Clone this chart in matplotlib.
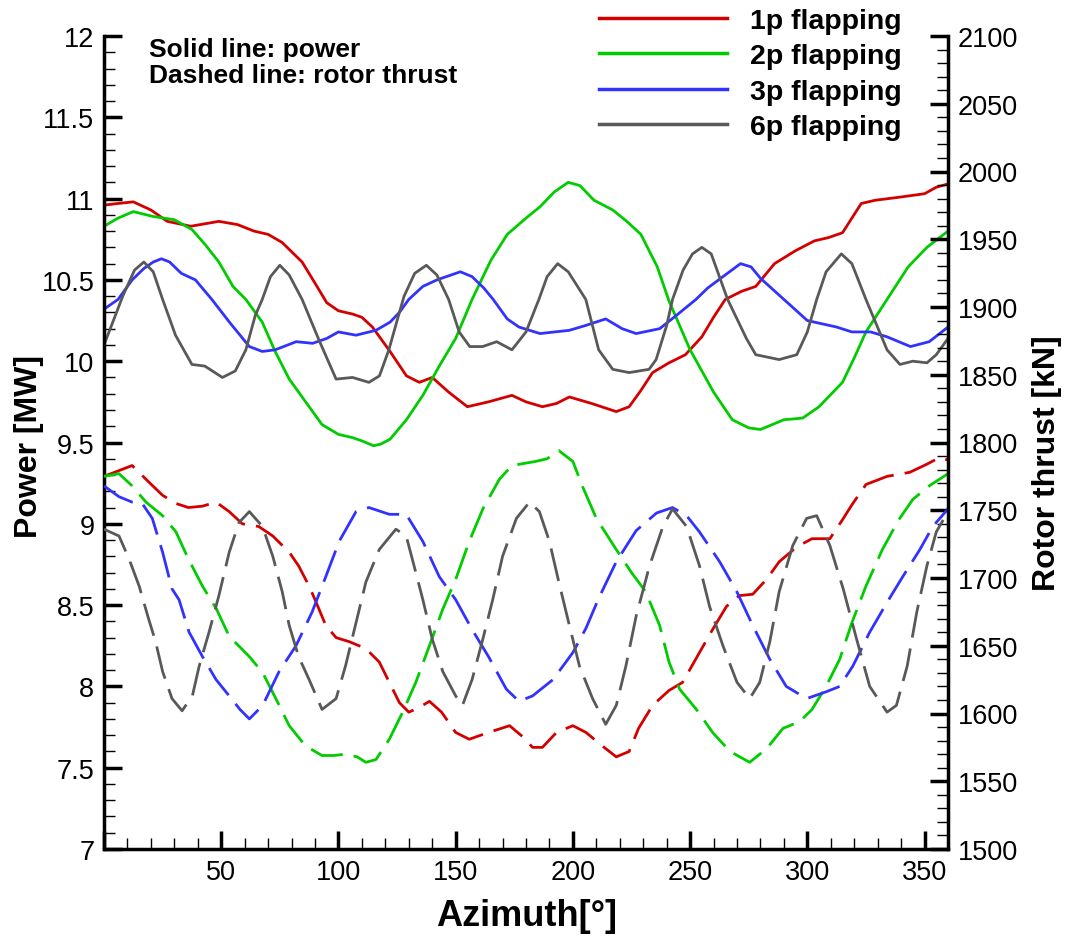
import matplotlib

matplotlib.use("Agg")
import matplotlib.pyplot as plt  # noqa: E402
from matplotlib.ticker import MultipleLocator, FuncFormatter  # noqa: E402

plt.rcParams["font.family"] = ["Liberation Sans", "DejaVu Sans"]
plt.rcParams["xtick.direction"] = "in"
plt.rcParams["ytick.direction"] = "in"

# ---- data (azimuth in degrees) ----
# solid lines: power [MW], left axis
az_p1 = [0, 6, 12.5, 20, 27, 37, 49, 57, 64, 70, 76, 84.5, 90, 95, 100, 106, 110,
         114.5, 122, 129, 134.5, 140, 147, 155, 164, 174, 180, 187, 193, 198.5,
         208, 218.5, 224, 229, 234, 241, 248, 255, 260, 265, 272, 278, 286, 295,
         303, 309, 315, 319, 323, 329, 340, 350, 355, 360]
power_p1 = [10.96, 10.97, 10.98, 10.93, 10.86, 10.83, 10.86, 10.84, 10.80, 10.78,
            10.73, 10.61, 10.48, 10.36, 10.31, 10.29, 10.27, 10.21, 10.06, 9.91,
            9.87, 9.90, 9.81, 9.72, 9.75, 9.79, 9.75, 9.72, 9.74, 9.78, 9.74, 9.69,
            9.72, 9.82, 9.93, 9.99, 10.04, 10.15, 10.27, 10.38, 10.43, 10.46, 10.60,
            10.68, 10.74, 10.76, 10.79, 10.88, 10.97, 10.99, 11.01, 11.03, 11.07,
            11.09]

az_p2 = [0, 6, 12.5, 21, 30, 37.5, 43, 49, 55, 60.5, 67.5, 73, 79, 86, 93, 100, 106,
         110, 115, 118, 122, 129, 136, 143, 150, 157, 165, 172, 180, 186, 192, 198,
         203, 209, 217, 223, 229, 236, 241, 250, 260, 268, 275, 280, 285, 290, 298,
         305, 315, 320, 325, 334, 343, 351, 360]
power_p2 = [10.83, 10.88, 10.92, 10.89, 10.87, 10.81, 10.72, 10.61, 10.46, 10.38,
            10.24, 10.06, 9.89, 9.75, 9.61, 9.55, 9.53, 9.51, 9.48, 9.49, 9.52, 9.64,
            9.79, 9.97, 10.14, 10.38, 10.62, 10.78, 10.88, 10.95, 11.04, 11.10, 11.08,
            10.99, 10.93, 10.86, 10.78, 10.58, 10.37, 10.07, 9.81, 9.64, 9.59, 9.58,
            9.61, 9.64, 9.65, 9.72, 9.87, 10.02, 10.18, 10.38, 10.58, 10.70, 10.80]

az_p3 = [0, 6, 12, 17, 21, 24.5, 28, 33, 39, 46, 53.5, 62, 67.5, 73, 82, 89, 95, 100,
         107.5, 116, 122, 126, 130, 136, 142, 148, 152, 157, 162, 166, 172, 177, 186,
         198.5, 205.5, 214, 221, 227, 237, 244, 252.5, 257.5, 264, 271.5, 276, 280,
         290, 300, 312.5, 319, 327, 334, 344, 352, 360]
power_p3 = [10.32, 10.38, 10.50, 10.57, 10.61, 10.63, 10.61, 10.54, 10.50, 10.38,
            10.24, 10.09, 10.06, 10.07, 10.12, 10.11, 10.14, 10.18, 10.16, 10.19,
            10.24, 10.30, 10.38, 10.46, 10.50, 10.53, 10.55, 10.52, 10.45, 10.38,
            10.26, 10.21, 10.17, 10.19, 10.22, 10.26, 10.20, 10.17, 10.20, 10.28,
            10.38, 10.45, 10.52, 10.60, 10.58, 10.51, 10.38, 10.25, 10.21, 10.18,
            10.18, 10.15, 10.09, 10.12, 10.21]

az_p6 = [0, 4, 8, 13, 17, 21, 25, 30.5, 37.5, 43, 50.5, 56, 60.5, 64.5, 67.5, 71, 75,
         79, 84.5, 92, 99, 106, 113, 117.5, 121.5, 126, 128, 132.5, 137.5, 142, 147,
         151.5, 156, 161.5, 167.5, 174, 180, 185.5, 189, 193.5, 198, 205.5, 211, 217,
         224, 232.5, 235.5, 240, 242.5, 247, 251, 255, 259, 266, 274, 278, 288,
         295.5, 300, 304, 308, 314.5, 319, 325, 334, 339.5, 345, 351, 355, 360]
power_p6 = [10.10, 10.25, 10.40, 10.56, 10.61, 10.55, 10.38, 10.16, 9.98, 9.97,
            9.90, 9.94, 10.07, 10.28, 10.38, 10.52, 10.59, 10.53, 10.38, 10.12, 9.89,
            9.90, 9.87, 9.91, 10.07, 10.30, 10.40, 10.54, 10.59, 10.53, 10.38, 10.18,
            10.09, 10.09, 10.12, 10.07, 10.18, 10.38, 10.52, 10.60, 10.55, 10.38,
            10.07, 9.95, 9.93, 9.95, 10.01, 10.22, 10.38, 10.56, 10.66, 10.70, 10.66,
            10.38, 10.14, 10.04, 10.01, 10.04, 10.18, 10.38, 10.55, 10.66, 10.60,
            10.38, 10.07, 9.98, 10.00, 9.99, 10.04, 10.14]

# dashed lines: rotor thrust [kN], right axis
az_t1 = [0, 6, 12, 19, 25, 30.7, 36, 42, 47.8, 53.4, 59, 66, 72, 79, 83, 87.5, 90.5,
         94.6, 99, 104.6, 111.6, 117.4, 121.7, 126, 130, 134, 138.8, 144, 150, 155.8,
         164, 173, 178.5, 182.8, 187, 193, 200, 205.6, 212.6, 218.5, 224, 228, 234,
         241, 246.8, 254, 259.6, 265.5, 271, 276.7, 282.6, 288, 295.5, 302, 309.6,
         315, 319, 325, 334, 343.7, 351, 356.5, 360]
thrust_t1 = [1775, 1779, 1783, 1771, 1761, 1755, 1752, 1753, 1756, 1749, 1740, 1738,
             1731, 1719, 1709, 1694, 1682, 1665, 1656, 1653, 1648, 1638, 1623, 1608,
             1601, 1604, 1609, 1601, 1586, 1581, 1586, 1591, 1583, 1575, 1575, 1586,
             1591, 1586, 1576, 1568, 1572, 1589, 1606, 1617, 1623, 1645, 1662, 1679,
             1687, 1688, 1699, 1712, 1723, 1729, 1729, 1743, 1754, 1769, 1775, 1778,
             1784, 1789, 1787]

az_t2 = [0, 6.4, 12, 17.9, 25, 30.7, 36, 42, 48, 53.4, 62, 67.7, 73.3, 79, 86, 93, 98,
         103, 108, 111.7, 116, 121.7, 127.4, 133, 138.8, 144.5, 150, 155.8, 161.6,
         168.7, 174, 184, 189, 194, 200, 204, 210, 218.5, 225, 231, 237, 241, 245.5,
         252.7, 259.6, 267, 275.4, 282.6, 289.6, 296.7, 302, 308, 313.8, 319, 325,
         332, 339, 345, 352, 360]
thrust_t2 = [1775, 1777, 1768, 1756, 1746, 1734, 1714, 1694, 1677, 1657, 1642, 1630,
             1611, 1591, 1576, 1569, 1569, 1570, 1568, 1564, 1566, 1581, 1601, 1623,
             1650, 1677, 1699, 1727, 1751, 1773, 1783, 1786, 1788, 1794, 1786, 1768,
             1744, 1721, 1704, 1690, 1665, 1638, 1618, 1603, 1586, 1572, 1564, 1574,
             1589, 1594, 1603, 1620, 1640, 1667, 1694, 1721, 1743, 1758, 1768, 1777]

az_t3 = [0, 6.4, 12, 16.3, 20.6, 25, 29, 32, 36.3, 42, 47.8, 53.4, 58, 62, 67.7, 74.7,
         81.9, 88.8, 94.6, 100.3, 107.5, 113, 121.7, 128.9, 136, 143, 150, 157, 164,
         171.6, 177, 182.8, 191.5, 200, 205.6, 211, 218.5, 227, 235.7, 242.5, 248.5,
         254, 262.6, 269.9, 276.7, 284, 291, 299.7, 308, 313.8, 319.4, 326.6, 334,
         340.7, 348, 353.5, 360]
thrust_t3 = [1768, 1760, 1756, 1755, 1744, 1719, 1692, 1684, 1660, 1642, 1625, 1613,
             1603, 1596, 1606, 1631, 1650, 1675, 1701, 1727, 1749, 1752, 1747, 1747,
             1727, 1701, 1684, 1662, 1642, 1618, 1609, 1613, 1625, 1645, 1663, 1685,
             1712, 1735, 1748, 1752, 1746, 1734, 1712, 1690, 1665, 1640, 1620, 1611,
             1616, 1620, 1635, 1660, 1682, 1701, 1721, 1738, 1751]

az_t6 = [0, 6.4, 10.7, 15, 19, 22, 25, 29, 33.3, 37.7, 40.6, 44.8, 49, 53.4, 57.6, 62,
         67.6, 72, 76, 79, 83, 87.5, 93, 99, 103, 107.5, 111.7, 117.4, 124.5, 128.9,
         131.5, 136, 140, 144.5, 150, 152.9, 157, 161.6, 165.8, 170, 175.9, 181.5,
         185.7, 190, 194, 198.5, 202.8, 208.4, 214, 218.5, 222.6, 227, 232.7, 238.4,
         242.5, 248.5, 254, 258.3, 264, 270, 275.4, 279.7, 284, 288, 293.8, 299.7,
         304, 309.6, 315.3, 321, 326.6, 334, 338, 342.6, 346.7, 351, 355, 360]
thrust_t6 = [1736, 1731, 1714, 1694, 1670, 1653, 1631, 1611, 1602, 1613, 1635, 1660,
             1687, 1719, 1741, 1749, 1738, 1716, 1690, 1665, 1642, 1625, 1603, 1611,
             1635, 1667, 1697, 1721, 1736, 1731, 1714, 1684, 1655, 1631, 1613, 1606,
             1625, 1655, 1684, 1716, 1744, 1756, 1749, 1727, 1697, 1665, 1635, 1611,
             1592, 1606, 1635, 1672, 1709, 1738, 1751, 1738, 1709, 1679, 1650, 1623,
             1611, 1623, 1653, 1690, 1724, 1744, 1746, 1724, 1692, 1655, 1620, 1601,
             1606, 1635, 1675, 1709, 1734, 1749]

labels = ["1p flapping", "2p flapping", "3p flapping", "6p flapping"]
colors = ["#d40000", "#00cc00", "#3232ff", "#595959"]

# ---- figure ----
W, H = 1066, 937
fig = plt.figure(figsize=(W / 100, H / 100), dpi=100)
ax = fig.add_axes([104 / W, 1 - 850 / H, (948 - 104) / W, (850 - 37) / H])
ax2 = ax.twinx()

power = [(az_p1, power_p1), (az_p2, power_p2), (az_p3, power_p3), (az_p6, power_p6)]
thrust = [(az_t1, thrust_t1), (az_t2, thrust_t2), (az_t3, thrust_t3), (az_t6, thrust_t6)]

handles = []
for (x, y), lab, c in zip(power, labels, colors):
    h, = ax.plot(x, y, color=c, lw=2.0, label=lab, solid_joinstyle="round")
    handles.append(h)
for (x, y), c in zip(thrust, colors):
    ax2.plot(x, y, color=c, lw=2.0, dashes=(12, 4), dash_joinstyle="round")

ax.set_xlim(0, 360)
ax.set_ylim(7, 12)
ax2.set_ylim(1500, 2100)

ax.xaxis.set_major_locator(MultipleLocator(50))
ax.xaxis.set_minor_locator(MultipleLocator(10))
ax.yaxis.set_major_locator(MultipleLocator(0.5))
ax.yaxis.set_minor_locator(MultipleLocator(0.1))
ax.yaxis.set_major_formatter(FuncFormatter(lambda v, p: f"{v:g}"))
ax2.yaxis.set_major_locator(MultipleLocator(50))
ax2.yaxis.set_minor_locator(MultipleLocator(10))

# reference starts the x labels at 50
ax.xaxis.set_major_formatter(FuncFormatter(lambda v, p: "" if v == 0 else f"{v:g}"))

for a in (ax, ax2):
    a.tick_params(which="major", direction="in", length=13, width=2.5, labelsize=19.5, pad=7)
    a.tick_params(which="minor", direction="in", length=8, width=1.0)
ax.tick_params(which="both", top=False, right=False)
ax2.tick_params(which="both", left=False, right=True)

ax.spines["top"].set_visible(False)
ax.spines["right"].set_visible(False)
for s in ("left", "bottom"):
    ax.spines[s].set_linewidth(2.5)
for s in ("top", "left", "bottom"):
    ax2.spines[s].set_visible(False)
ax2.spines["right"].set_linewidth(2.5)

# axis titles
fig.text(527 / W, 1 - 917 / H, "Azimuth[°]", fontsize=26, fontweight="bold",
         ha="center", va="center")
fig.text(29 / W, 1 - 446 / H, "Power [MW]", fontsize=23, fontweight="bold",
         rotation=90, ha="center", va="center")
fig.text(1047 / W, 1 - 463 / H, "Rotor thrust [kN]", fontsize=23, fontweight="bold",
         rotation=90, ha="center", va="center")

# notes
fig.text(149 / W, 1 - 57 / H, "Solid line: power", fontsize=19, fontweight="bold",
         ha="left", va="baseline")
fig.text(149 / W, 1 - 83 / H, "Dashed line: rotor thrust", fontsize=19,
         fontweight="bold", ha="left", va="baseline")

leg = fig.legend(handles=handles, loc="upper left", bbox_to_anchor=(599 / W, 1 - 9 / H),
                 frameon=False, prop={"weight": "bold", "size": 20.5},
                 handlelength=4.5, handletextpad=0.8, labelspacing=0.33,
                 borderpad=0, borderaxespad=0)
for line in leg.get_lines():
    line.set_linewidth(2.5)

fig.savefig("out.png", dpi=100)
